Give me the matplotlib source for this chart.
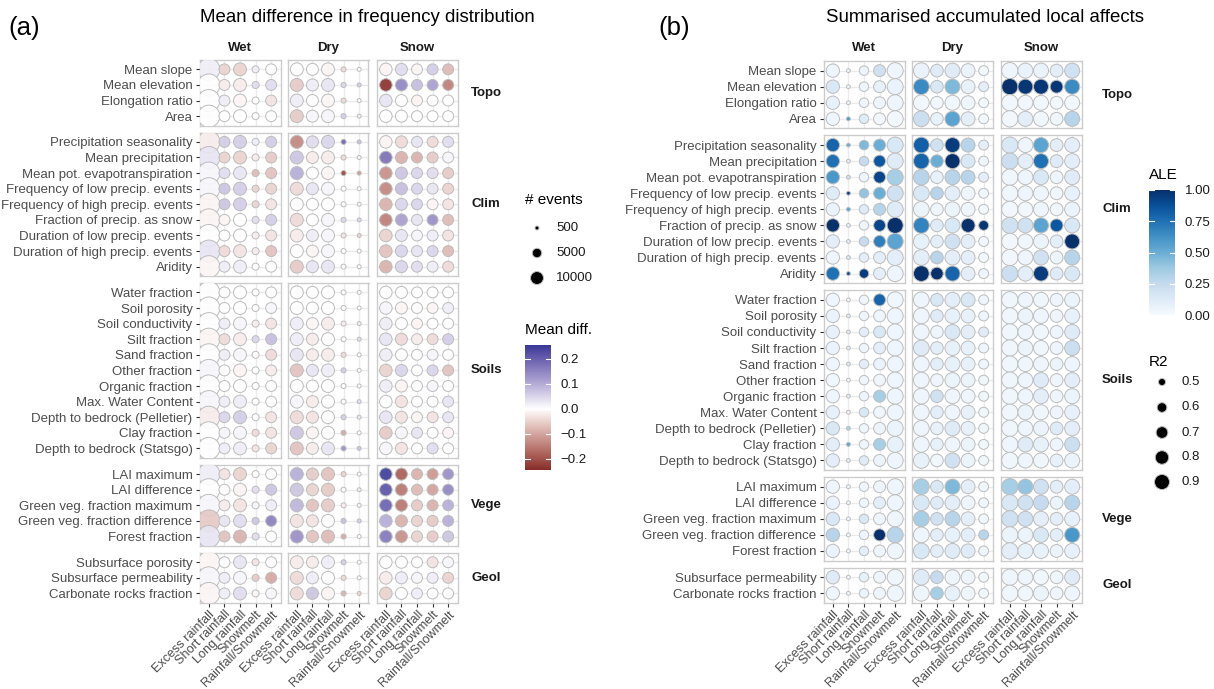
import numpy as np
import matplotlib
matplotlib.use("Agg")
import matplotlib.pyplot as plt
from matplotlib.colors import ListedColormap, Normalize

plt.rcParams['font.family'] = ['Liberation Sans', 'DejaVu Sans']

DPI = 100
W, H = 1214, 689

climates = ['Wet', 'Dry', 'Snow']
events = ['Excess rainfall', 'Short rainfall', 'Long rainfall', 'Snowmelt', 'Rainfall/Snowmelt']
groups = ['Topo', 'Clim', 'Soils', 'Vege', 'Geol']

feat_topo = ['Mean slope', 'Mean elevation', 'Elongation ratio', 'Area']
feat_clim = ['Precipitation seasonality', 'Mean precipitation', 'Mean pot. evapotranspiration',
             'Frequency of low precip. events', 'Frequency of high precip. events',
             'Fraction of precip. as snow', 'Duration of low precip. events',
             'Duration of high precip. events', 'Aridity']
feat_soils = ['Water fraction', 'Soil porosity', 'Soil conductivity', 'Silt fraction', 'Sand fraction',
              'Other fraction', 'Organic fraction', 'Max. Water Content', 'Depth to bedrock (Pelletier)',
              'Clay fraction', 'Depth to bedrock (Statsgo)']
feat_vege = ['LAI maximum', 'LAI difference', 'Green veg. fraction maximum',
             'Green veg. fraction difference', 'Forest fraction']
feat_geol_a = ['Subsurface porosity', 'Subsurface permeability', 'Carbonate rocks fraction']
feat_geol_b = ['Subsurface permeability', 'Carbonate rocks fraction']

# ---- (a) number of events per climate / event type
n_events = {'Wet': [29800, 7000, 10000, 2600, 7000],
            'Dry': [10000, 8500, 10000, 1100, 500],
            'Snow': [9300, 8500, 7000, 7000, 7000]}

# ---- (a) mean difference
diff_topo = {
    'Wet': [[0.02, -0.05, -0.05, 0.02, 0.0], [0.0, -0.02, -0.02, 0.04, 0.04],
            [0.0, 0.02, -0.01, 0.0, -0.03], [0.0, 0.0, 0.0, 0.0, 0.0]],
    'Dry': [[0.0, 0.0, -0.01, -0.04, 0.0], [-0.06, 0.02, 0.03, 0.05, 0.06],
            [0.02, 0.0, -0.01, -0.04, 0.0], [-0.06, 0.01, 0.01, 0.06, 0.02]],
    'Snow': [[-0.01, 0.04, -0.01, 0.06, -0.08], [-0.245, 0.15, 0.08, 0.12, -0.15],
             [0.03, 0.0, -0.01, 0.0, 0.0], [0.0, 0.0, 0.0, 0.0, 0.0]],
}
diff_clim = {
    'Wet': [[-0.02, 0.06, 0.06, 0.02, 0.06], [0.03, -0.05, -0.05, -0.02, -0.06],
            [0.01, 0.04, 0.03, -0.08, -0.07], [0.01, 0.07, 0.06, -0.05, -0.05],
            [-0.01, 0.07, 0.06, -0.05, -0.03], [-0.01, -0.01, 0.0, 0.04, 0.06],
            [0.0, 0.0, 0.0, -0.02, -0.03], [0.03, -0.04, -0.03, -0.02, -0.07],
            [-0.01, 0.02, 0.02, 0.0, 0.0]],
    'Dry': [[-0.14, 0.04, 0.05, 0.2, 0.08], [0.07, -0.02, -0.02, -0.04, -0.01],
            [0.1, 0.0, -0.01, -0.22, -0.12], [-0.04, 0.03, 0.01, 0.0, 0.0],
            [0.0, 0.0, 0.0, 0.0, 0.0], [-0.04, 0.0, 0.01, 0.05, 0.05],
            [-0.02, 0.02, 0.01, -0.03, -0.05], [0.0, -0.01, 0.01, 0.0, 0.0],
            [-0.06, 0.03, 0.03, 0.0, 0.0]],
    'Snow': [[-0.01, -0.04, 0.03, -0.04, 0.04], [0.18, -0.09, -0.09, -0.06, 0.01],
             [-0.13, 0.07, 0.05, 0.04, -0.06], [-0.14, 0.08, 0.05, 0.03, -0.05],
             [-0.09, 0.05, 0.05, -0.01, -0.03], [-0.15, 0.12, 0.03, 0.14, -0.08],
             [-0.05, 0.03, 0.01, 0.02, -0.03], [-0.07, 0.05, 0.03, 0.05, -0.08],
             [-0.09, 0.05, 0.04, 0.02, -0.04]],
}
diff_soils = {
    'Wet': [[0.0, 0.0, 0.0, 0.0, 0.0], [0.0, 0.0, 0.0, 0.0, 0.01],
            [0.0, 0.02, 0.01, -0.02, -0.03], [-0.01, -0.04, -0.02, 0.05, 0.08],
            [0.0, 0.02, 0.01, 0.0, -0.04], [0.01, 0.0, -0.01, 0.0, -0.02],
            [0.0, 0.0, 0.0, 0.0, 0.0], [0.01, 0.02, 0.02, 0.0, 0.0],
            [-0.02, 0.05, 0.06, 0.0, -0.03], [0.0, 0.01, 0.01, -0.04, -0.03],
            [0.0, 0.02, 0.02, -0.03, -0.05]],
    'Dry': [[0.0, 0.0, 0.0, 0.0, 0.0], [0.0, 0.0, 0.0, 0.0, 0.0],
            [0.02, -0.01, -0.02, -0.02, -0.02], [0.02, -0.02, 0.0, 0.0, 0.04],
            [0.03, -0.02, -0.02, -0.04, 0.0], [-0.07, 0.03, 0.02, 0.06, 0.0],
            [0.0, 0.0, 0.0, 0.0, 0.0], [0.01, -0.02, 0.0, 0.0, 0.04],
            [-0.04, -0.03, 0.0, 0.06, 0.03], [0.07, -0.01, 0.0, -0.1, 0.0],
            [-0.07, -0.02, 0.03, 0.14, 0.07]],
    'Snow': [[0.0, 0.0, 0.0, 0.0, 0.0], [0.01, -0.01, 0.0, -0.01, 0.02],
             [0.02, 0.0, -0.01, 0.0, 0.0], [0.03, -0.04, -0.02, -0.04, 0.06],
             [0.02, 0.0, 0.0, 0.01, 0.0], [-0.05, 0.05, 0.0, 0.05, -0.07],
             [0.02, -0.01, 0.0, 0.01, 0.0], [0.0, -0.03, 0.0, 0.0, 0.03],
             [0.03, -0.03, -0.01, -0.03, 0.03], [-0.06, 0.01, 0.03, 0.0, -0.01],
             [0.01, -0.03, 0.0, 0.04, 0.0]],
}
diff_vege = {
    'Wet': [[0.02, -0.03, -0.05, 0.0, 0.0], [0.0, 0.0, -0.01, 0.04, 0.07],
            [0.01, -0.02, -0.03, 0.01, 0.02], [-0.06, 0.03, 0.04, 0.07, 0.16],
            [0.03, -0.07, -0.09, 0.04, 0.0]],
    'Dry': [[0.1, -0.06, -0.07, -0.05, 0.0], [0.07, -0.05, -0.06, 0.0, 0.02],
            [0.09, -0.07, -0.06, -0.02, 0.01], [-0.03, -0.03, 0.0, 0.08, 0.06],
            [0.14, -0.07, -0.08, -0.1, 0.0]],
    'Snow': [[0.255, -0.19, -0.09, -0.12, 0.14], [0.22, -0.16, -0.08, -0.11, 0.15],
             [0.2, -0.16, -0.06, -0.09, 0.1], [0.1, -0.09, -0.05, -0.06, 0.1],
             [0.17, -0.13, -0.05, -0.06, 0.07]],
}
diff_geol = {
    'Wet': [[-0.01, 0.0, 0.03, -0.03, 0.0], [0.01, 0.02, 0.01, -0.06, -0.1],
            [-0.01, 0.02, 0.04, -0.01, 0.01]],
    'Dry': [[-0.02, -0.02, 0.02, 0.06, 0.0], [-0.04, 0.02, 0.0, -0.04, 0.0],
            [-0.04, 0.07, -0.01, -0.09, -0.05]],
    'Snow': [[0.0, 0.0, 0.0, -0.03, 0.01], [-0.02, 0.02, 0.01, 0.02, -0.05],
             [-0.05, 0.0, 0.02, 0.0, 0.0]],
}

# ---- (b) R2 per climate / event type
r2 = {'Wet': [0.79, 0.42, 0.59, 0.71, 0.97],
      'Dry': [0.95, 0.75, 0.90, 0.83, 0.61],
      'Snow': [0.99, 0.90, 0.90, 0.76, 0.90]}

# ---- (b) summarised ALE
ale_topo = {
    'Wet': [[0.05, 0.03, 0.05, 0.2, 0.05], [0.15, 0.05, 0.05, 0.08, 0.07],
            [0.08, 0.05, 0.05, 0.05, 0.05], [0.05, 0.6, 0.12, 0.03, 0.03]],
    'Dry': [[0.07, 0.12, 0.12, 0.07, 0.03], [0.65, 0.15, 0.45, 0.08, 0.1],
            [0.03, 0.03, 0.04, 0.05, 0.02], [0.22, 0.08, 0.55, 0.1, 0.03]],
    'Snow': [[0.05, 0.07, 0.07, 0.1, 0.2], [1.0, 0.98, 0.97, 0.98, 0.65],
             [0.03, 0.03, 0.03, 0.03, 0.03], [0.03, 0.1, 0.04, 0.04, 0.3]],
}
ale_clim = {
    'Wet': [[0.8, 0.5, 0.45, 0.5, 0.15], [0.75, 0.1, 0.25, 0.85, 0.12],
            [0.6, 0.2, 0.05, 0.92, 0.35], [0.12, 0.95, 0.4, 0.5, 0.2],
            [0.07, 0.55, 0.12, 0.3, 0.12], [1.0, 0.1, 0.05, 0.92, 1.0],
            [0.1, 0.1, 0.25, 0.7, 0.55], [0.05, 0.15, 0.1, 0.1, 0.1],
            [0.75, 0.9, 0.95, 0.1, 0.05]],
    'Dry': [[0.82, 0.2, 0.95, 0.3, 0.1], [0.8, 0.5, 1.0, 0.15, 0.05],
            [0.3, 0.08, 0.3, 0.3, 0.1], [0.15, 0.3, 0.1, 0.05, 0.04],
            [0.06, 0.05, 0.06, 0.05, 0.03], [0.68, 0.12, 0.15, 1.0, 0.98],
            [0.08, 0.1, 0.2, 0.1, 0.03], [0.1, 0.3, 0.1, 0.1, 0.03],
            [1.0, 1.0, 0.8, 0.1, 0.05]],
    'Snow': [[0.15, 0.05, 0.55, 0.1, 0.1], [0.22, 0.1, 0.75, 0.12, 0.1],
             [0.04, 0.05, 0.15, 0.05, 0.12], [0.04, 0.05, 0.05, 0.04, 0.08],
             [0.03, 0.03, 0.05, 0.04, 0.06], [0.2, 0.2, 0.55, 0.85, 0.15],
             [0.03, 0.04, 0.06, 0.1, 1.0], [0.03, 0.05, 0.2, 0.05, 0.3],
             [0.22, 0.1, 0.95, 0.12, 0.15]],
}
ale_soils = {
    'Wet': [[0.05, 0.02, 0.04, 0.8, 0.04], [0.07, 0.1, 0.05, 0.05, 0.05],
            [0.08, 0.1, 0.1, 0.15, 0.05], [0.07, 0.12, 0.05, 0.1, 0.05],
            [0.05, 0.15, 0.1, 0.07, 0.05], [0.04, 0.02, 0.05, 0.05, 0.05],
            [0.05, 0.12, 0.05, 0.35, 0.05], [0.08, 0.05, 0.15, 0.05, 0.05],
            [0.15, 0.35, 0.05, 0.06, 0.06], [0.1, 0.55, 0.05, 0.35, 0.08],
            [0.1, 0.1, 0.12, 0.06, 0.05]],
    'Dry': [[0.05, 0.15, 0.1, 0.15, 0.05], [0.05, 0.12, 0.08, 0.08, 0.05],
            [0.05, 0.05, 0.15, 0.1, 0.12], [0.12, 0.1, 0.08, 0.08, 0.05],
            [0.05, 0.1, 0.08, 0.08, 0.05], [0.05, 0.05, 0.06, 0.06, 0.04],
            [0.05, 0.2, 0.05, 0.05, 0.04], [0.05, 0.1, 0.05, 0.08, 0.04],
            [0.05, 0.08, 0.12, 0.08, 0.04], [0.05, 0.08, 0.05, 0.06, 0.04],
            [0.08, 0.04, 0.2, 0.06, 0.04]],
    'Snow': [[0.04, 0.05, 0.04, 0.05, 0.06], [0.04, 0.06, 0.05, 0.05, 0.08],
             [0.04, 0.05, 0.04, 0.05, 0.12], [0.04, 0.06, 0.04, 0.05, 0.22],
             [0.04, 0.04, 0.05, 0.06, 0.05], [0.04, 0.05, 0.12, 0.05, 0.1],
             [0.04, 0.05, 0.1, 0.05, 0.06], [0.04, 0.06, 0.04, 0.05, 0.08],
             [0.04, 0.05, 0.06, 0.12, 0.1], [0.05, 0.12, 0.08, 0.05, 0.22],
             [0.04, 0.05, 0.04, 0.08, 0.06]],
}
ale_vege = {
    'Wet': [[0.05, 0.02, 0.05, 0.05, 0.05], [0.07, 0.02, 0.05, 0.1, 0.05],
            [0.15, 0.02, 0.15, 0.05, 0.05], [0.3, 0.02, 0.05, 1.0, 0.3],
            [0.07, 0.02, 0.1, 0.05, 0.05]],
    'Dry': [[0.35, 0.15, 0.45, 0.1, 0.04], [0.15, 0.12, 0.1, 0.05, 0.04],
            [0.35, 0.2, 0.3, 0.1, 0.04], [0.05, 0.1, 0.08, 0.1, 0.3],
            [0.15, 0.1, 0.12, 0.12, 0.05]],
    'Snow': [[0.35, 0.4, 0.2, 0.1, 0.1], [0.15, 0.2, 0.25, 0.06, 0.3],
             [0.2, 0.2, 0.1, 0.1, 0.08], [0.06, 0.06, 0.15, 0.1, 0.6],
             [0.1, 0.08, 0.08, 0.06, 0.08]],
}
ale_geol = {
    'Wet': [[0.12, 0.05, 0.08, 0.05, 0.05], [0.05, 0.02, 0.07, 0.05, 0.05]],
    'Dry': [[0.12, 0.25, 0.05, 0.05, 0.04], [0.05, 0.35, 0.08, 0.05, 0.04]],
    'Snow': [[0.05, 0.05, 0.04, 0.05, 0.12], [0.04, 0.04, 0.06, 0.05, 0.05]],
}

events_breaks = [500, 5000, 10000]
r2_breaks = [0.5, 0.6, 0.7, 0.8, 0.9]


# colour scale like ggplot's gradient2 (interpolated in Lab)
def srgb_to_lab(rgb):
    c = np.asarray(rgb, float)
    lin = np.where(c <= 0.04045, c / 12.92, ((c + 0.055) / 1.055) ** 2.4)
    M = np.array([[0.4124, 0.3576, 0.1805], [0.2126, 0.7152, 0.0722], [0.0193, 0.1192, 0.9505]])
    xyz = M @ lin / np.array([0.95047, 1.0, 1.08883])
    f = np.where(xyz > 0.008856, np.cbrt(xyz), 7.787 * xyz + 16 / 116)
    return np.array([116 * f[1] - 16, 500 * (f[0] - f[1]), 200 * (f[1] - f[2])])


def lab_to_srgb(lab):
    L, a, b = lab
    fy = (L + 16) / 116
    f = np.array([fy + a / 500, fy, fy - b / 200])
    xyz = np.where(f ** 3 > 0.008856, f ** 3, (f - 16 / 116) / 7.787) * np.array([0.95047, 1.0, 1.08883])
    Minv = np.linalg.inv(np.array([[0.4124, 0.3576, 0.1805], [0.2126, 0.7152, 0.0722], [0.0193, 0.1192, 0.9505]]))
    lin = np.clip(Minv @ xyz, 0, 1)
    return np.clip(np.where(lin <= 0.0031308, 12.92 * lin, 1.055 * lin ** (1 / 2.4) - 0.055), 0, 1)


def hex_rgb(h):
    return [int(h[i:i + 2], 16) / 255 for i in (1, 3, 5)]


lo_lab, mid_lab, hi_lab = (srgb_to_lab(hex_rgb(h)) for h in ('#832424', '#FFFFFF', '#3A3A98'))
cols = []
for t in np.linspace(0, 1, 256):
    if t < 0.5:
        cols.append(lab_to_srgb(lo_lab + (mid_lab - lo_lab) * t * 2))
    else:
        cols.append(lab_to_srgb(mid_lab + (hi_lab - mid_lab) * (t - 0.5) * 2))
diff_cmap = ListedColormap(cols)

all_diff = np.concatenate([np.ravel(d[c]) for d in (diff_topo, diff_clim, diff_soils, diff_vege, diff_geol)
                           for c in climates])
diff_lo, diff_hi = all_diff.min(), all_diff.max()
diff_m = max(abs(diff_lo), abs(diff_hi))
diff_norm = Normalize(-diff_m, diff_m)
ale_cmap = plt.get_cmap('Blues')
ale_norm = Normalize(0, 1)


def size_events(n):
    d = np.sqrt(8 + 0.016 * np.asarray(n, float))
    return (d * 72 / DPI) ** 2


def size_r2(r):
    d = np.sqrt(50 + 440 * (np.asarray(r, float) - 0.5))
    return (d * 72 / DPI) ** 2


fig = plt.figure(figsize=(W / DPI, H / DPI), dpi=DPI)


def px_axes(left, top, width, height):
    return fig.add_axes([left / W, 1 - (top + height) / H, width / W, height / H])


TXT = '#4D4D4D'
FS = 9.5


def draw_block(xlefts, top, unit_y, gap, feats_list, data_list, size_of, sizes, cmap, norm,
               strip_x, face_alpha):
    y0 = top
    for gi, (feats, data) in enumerate(zip(feats_list, data_list)):
        n = len(feats)
        h = (n - 1 + 1.2) * unit_y
        for ci, clim in enumerate(climates):
            ax = px_axes(xlefts[ci], y0, 81, h)
            ax.set_xlim(-0.6, 4.6)
            ax.set_ylim(n - 1 + 0.6, -0.6)
            ax.set_xticks(range(5))
            ax.set_yticks(range(n))
            ax.grid(True, color='#EBEBEB', lw=1.0)
            ax.set_axisbelow(True)
            for sp in ax.spines.values():
                sp.set_color('#CCCCCC')
                sp.set_linewidth(1.0)
            vals = np.array(data[clim])
            xx, yy = np.meshgrid(range(5), range(n))
            fc = cmap(norm(vals.ravel()))
            fc[:, 3] = face_alpha
            ax.scatter(xx.ravel(), yy.ravel(), s=np.tile(size_of(sizes[clim]), n),
                       facecolors=fc, edgecolors='#BDBDBD', linewidths=0.7, zorder=3)
            ax.tick_params(length=3, width=0.8, color='#333333', labelcolor=TXT, labelsize=FS, pad=2)
            if ci == 0:
                ax.set_yticklabels(feats)
            else:
                ax.tick_params(axis='y', left=False, labelleft=False)
            if gi == len(feats_list) - 1:
                ax.set_xticklabels(events, rotation=45, ha='right', va='top', rotation_mode='anchor',
                                   fontsize=9.1)
                ax.tick_params(axis='x', pad=1)
            else:
                ax.tick_params(axis='x', bottom=False, labelbottom=False)
            if gi == 0:
                fig.text((xlefts[ci] + 40.5) / W, 1 - 48 / H, clim, ha='center', va='center',
                         fontsize=FS, fontweight='bold', color='#1A1A1A')
        fig.text(strip_x / W, 1 - (y0 + h / 2) / H, groups[gi], ha='center', va='center',
                 fontsize=FS, fontweight='bold', color='#1A1A1A')
        y0 += h + gap


draw_block([199.5, 287.5, 376.5], 60, 15.6, 7,
           [feat_topo, feat_clim, feat_soils, feat_vege, feat_geol_a],
           [diff_topo, diff_clim, diff_soils, diff_vege, diff_geol],
           size_events, n_events, diff_cmap, diff_norm, 486, 0.9)
draw_block([823.5, 912, 1000.5], 61, 16.06, 7,
           [feat_topo, feat_clim, feat_soils, feat_vege, feat_geol_b],
           [ale_topo, ale_clim, ale_soils, ale_vege, ale_geol],
           size_r2, r2, ale_cmap, ale_norm, 1117, 1.0)

# colour bars
cax = px_axes(525, 345, 26, 125)
grad = np.linspace(diff_hi, diff_lo, 256)[:, None]
cax.imshow(grad, aspect='auto', cmap=diff_cmap, norm=diff_norm, extent=[0, 1, diff_lo, diff_hi])
cax.set_xlim(0, 1)
cax.set_ylim(diff_lo, diff_hi)
diff_ticks = [-0.2, -0.1, 0.0, 0.1, 0.2]
for v in diff_ticks:
    cax.plot([0, 0.2], [v, v], color='white', lw=0.8)
    cax.plot([0.8, 1], [v, v], color='white', lw=0.8)
cax.set_xticks([])
cax.yaxis.tick_right()
cax.set_yticks(diff_ticks)
cax.set_yticklabels(['\u22120.2', '\u22120.1', '0.0', '0.1', '0.2'])
cax.tick_params(axis='y', length=0, pad=7, labelsize=FS, labelcolor='#1A1A1A')
for sp in cax.spines.values():
    sp.set_visible(False)

bax = px_axes(1149, 190, 26, 125)
bax.imshow(np.linspace(1, 0, 256)[:, None], aspect='auto', cmap=ale_cmap, norm=ale_norm,
           extent=[0, 1, 0, 1])
bax.set_xlim(0, 1)
bax.set_ylim(0, 1)
ale_ticks = [0.0, 0.25, 0.5, 0.75, 1.0]
for v in ale_ticks:
    bax.plot([0, 0.2], [v, v], color='white', lw=0.8)
    bax.plot([0.8, 1], [v, v], color='white', lw=0.8)
bax.set_xticks([])
bax.yaxis.tick_right()
bax.set_yticks(ale_ticks)
bax.set_yticklabels(['%.2f' % v for v in ale_ticks])
bax.tick_params(axis='y', length=0, pad=7, labelsize=FS, labelcolor='#1A1A1A')
for sp in bax.spines.values():
    sp.set_visible(False)

# overlay for titles and size legends
ov = fig.add_axes([0, 0, 1, 1])
ov.set_xlim(0, W)
ov.set_ylim(H, 0)
ov.axis('off')

ov.text(8, 28, '(a)', fontsize=18.5, ha='left', va='center')
ov.text(658, 28, '(b)', fontsize=18.5, ha='left', va='center')
ov.text(200, 18, 'Mean difference in frequency distribution', fontsize=13.4, ha='left', va='center')
ov.text(826, 18, 'Summarised accumulated local affects', fontsize=13.4, ha='left', va='center')

ov.text(525, 200, '# events', fontsize=11, ha='left', va='center')
ev_y = [228, 253, 278]
ov.scatter([537] * 3, ev_y, s=size_events(events_breaks), c='black', edgecolors='#BDBDBD',
           linewidths=0.7, clip_on=False)
for y, v in zip(ev_y, events_breaks):
    ov.text(556, y, str(v), fontsize=FS, ha='left', va='center', color='#1A1A1A')
ov.text(525, 330, 'Mean diff.', fontsize=11, ha='left', va='center')

ov.text(1149, 175, 'ALE', fontsize=11, ha='left', va='center')
ov.text(1149, 362, 'R2', fontsize=11, ha='left', va='center')
r2_y = [382, 407.5, 432.5, 457.5, 482]
ov.scatter([1162] * 5, r2_y, s=size_r2(r2_breaks), c='black', edgecolors='#BDBDBD',
           linewidths=0.7, clip_on=False)
for y, v in zip(r2_y, r2_breaks):
    ov.text(1182, y, '%.1f' % v, fontsize=FS, ha='left', va='center', color='#1A1A1A')

fig.savefig('out.png', dpi=DPI, facecolor='white')
plt.close(fig)
